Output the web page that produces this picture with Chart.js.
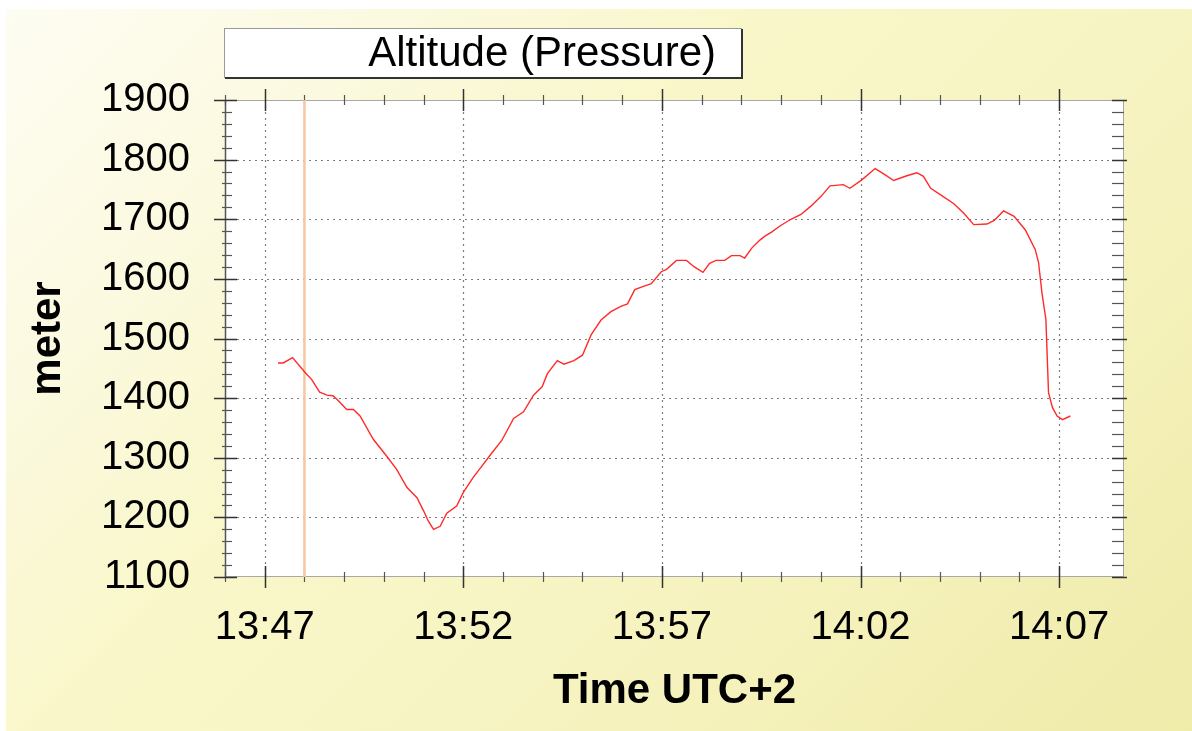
<!DOCTYPE html>
<html>
<head>
<meta charset="utf-8">
<title>Altitude (Pressure)</title>
<script src="https://cdn.jsdelivr.net/npm/chart.js@4.4.1/dist/chart.umd.min.js"></script>
<style>
    html, body { margin: 0; padding: 0; background: #fff; }
    canvas { display: block; }
</style>
</head>
<body>
<canvas id="altChart" width="1192" height="731"></canvas>
<script>
// logger readings, local time (UTC+2)
const times = [
    '13:47:20', '13:47:28', '13:47:42', '13:48:01', '13:48:11', '13:48:23', '13:48:34', '13:48:43',
    '13:48:49', '13:49:04', '13:49:14', '13:49:24', '13:49:44', '13:50:04', '13:50:19', '13:50:35',
    '13:50:50', '13:51:00', '13:51:07', '13:51:15', '13:51:25', '13:51:35', '13:51:50', '13:52:00',
    '13:52:15', '13:52:28', '13:52:41', '13:52:58', '13:53:16', '13:53:31', '13:53:46', '13:53:59',
    '13:54:07', '13:54:22', '13:54:32', '13:54:47', '13:55:00', '13:55:13', '13:55:28', '13:55:43',
    '13:55:58', '13:56:08', '13:56:19', '13:56:31', '13:56:44', '13:56:59', '13:57:07', '13:57:22',
    '13:57:37', '13:57:49', '13:58:02', '13:58:12', '13:58:22', '13:58:35', '13:58:45', '13:58:58',
    '13:59:05', '13:59:16', '13:59:28', '13:59:36', '13:59:45', '14:00:00', '14:00:15', '14:00:30',
    '14:00:45', '14:01:00', '14:01:14', '14:01:34', '14:01:44', '14:02:02', '14:02:22', '14:02:35',
    '14:02:50', '14:03:10', '14:03:25', '14:03:35', '14:03:46', '14:04:01', '14:04:21', '14:04:36',
    '14:04:51', '14:05:11', '14:05:22', '14:05:36', '14:05:52', '14:06:09', '14:06:24', '14:06:29',
    '14:06:34', '14:06:40', '14:06:42', '14:06:44', '14:06:50', '14:06:57', '14:07:05', '14:07:17'
];
const altitude = [
    1459, 1459, 1468, 1443, 1431, 1410, 1405, 1404,
    1398, 1381, 1381, 1370, 1331, 1303, 1281, 1250,
    1233, 1211, 1194, 1180, 1185, 1207, 1219, 1242,
    1267, 1286, 1305, 1329, 1366, 1377, 1405, 1419,
    1441, 1463, 1457, 1463, 1472, 1506, 1531, 1545,
    1554, 1558, 1582, 1587, 1592, 1612, 1616, 1631,
    1631, 1620, 1611, 1626, 1631, 1631, 1639, 1639,
    1635, 1652, 1665, 1672, 1678, 1690, 1700, 1708,
    1722, 1738, 1756, 1758, 1752, 1766, 1785, 1776,
    1765, 1773, 1778, 1772, 1752, 1741, 1726, 1710,
    1691, 1692, 1698, 1714, 1705, 1682, 1649, 1627,
    1577, 1532, 1470, 1409, 1384, 1370, 1364, 1370
];

const timeLabels = ['13:47', '13:52', '13:57', '14:02', '14:07'];
const meterLabels = [1100, 1200, 1300, 1400, 1500, 1600, 1700, 1800, 1900];
const xMin = '13:46:00';
const xMax = '14:08:38';
const cursorTime = '13:48:00';
const seriesName = 'Altitude (Pressure)';

const FONT = "'Liberation Sans', Arial, sans-serif";

function toMinutes(s) {
    const p = s.split(':').map(Number);
    return p[0] * 60 + p[1] + (p[2] || 0) / 60;
}

function fmtTime(m) {
    const h = Math.floor(m / 60);
    const mm = Math.round(m - h * 60);
    return h + ':' + String(mm).padStart(2, '0');
}

const isWhole = v => Math.abs(v - Math.round(v)) < 1e-6;

// background panel, plot frame, dotted grid, tick marks, legend box
const framePlugin = {
    id: 'frame',
    beforeDraw(chart) {
        const { ctx, chartArea: a, width, height } = chart;
        ctx.save();
        ctx.fillStyle = '#fff';
        ctx.fillRect(0, 0, width, height);

        const g = ctx.createLinearGradient(6, 9, 6 + 954, 9 + 954);
        g.addColorStop(0, '#fefdf3');
        g.addColorStop(0.22, '#fbf9de');
        g.addColorStop(0.4, '#f9f7c9');
        g.addColorStop(0.62, '#f7f4c3');
        g.addColorStop(1, '#efeba9');
        ctx.fillStyle = g;
        ctx.fillRect(6, 9, width - 6, height - 9);

        ctx.fillStyle = '#fff';
        ctx.fillRect(a.left, a.top, a.right - a.left, a.bottom - a.top);

        // legend box
        const bx = 224, by = 28, bw = 517, bh = 49;
        ctx.fillStyle = '#fff';
        ctx.fillRect(bx, by, bw, bh);
        ctx.strokeStyle = '#9a9a9a';
        ctx.lineWidth = 1;
        ctx.strokeRect(bx + 0.5, by + 0.5, bw, bh);
        ctx.strokeStyle = '#333';
        ctx.lineWidth = 2;
        ctx.beginPath();
        ctx.moveTo(bx + 1, by + bh + 1);
        ctx.lineTo(bx + bw + 1, by + bh + 1);
        ctx.lineTo(bx + bw + 1, by + 1);
        ctx.stroke();
        ctx.fillStyle = '#000';
        ctx.font = '42px ' + FONT;
        ctx.textAlign = 'right';
        ctx.textBaseline = 'middle';
        ctx.fillText(chart.data.datasets[0].label, bx + bw - 25, by + bh / 2 + 2);
        ctx.restore();
    },
    beforeDatasetsDraw(chart) {
        const { ctx, chartArea: a, scales } = chart;
        const xs = scales.x, ys = scales.y;
        ctx.save();

        // dotted grid on labelled ticks
        ctx.strokeStyle = 'rgba(70, 70, 70, 0.7)';
        ctx.lineWidth = 1.2;
        ctx.setLineDash([2, 4]);
        xs.ticks.forEach(t => {
            if (!t.label) return;
            const px = Math.round(xs.getPixelForValue(t.value)) + 0.5;
            ctx.beginPath();
            ctx.moveTo(px, a.top);
            ctx.lineTo(px, a.bottom);
            ctx.stroke();
        });
        ys.ticks.forEach(t => {
            if (!t.label || t.value === ys.min || t.value === ys.max) return;
            const py = Math.round(ys.getPixelForValue(t.value)) + 0.5;
            ctx.beginPath();
            ctx.moveTo(a.left, py);
            ctx.lineTo(a.right, py);
            ctx.stroke();
        });
        ctx.setLineDash([]);

        // plot frame
        ctx.strokeStyle = '#a8a8a8';
        ctx.lineWidth = 1;
        ctx.strokeRect(a.left + 0.5, a.top + 0.5, a.right - a.left - 1, a.bottom - a.top - 1);
        ctx.strokeStyle = '#555';
        ctx.lineWidth = 1.5;
        ctx.beginPath();
        ctx.moveTo(a.left + 0.5, a.top);
        ctx.lineTo(a.left + 0.5, a.bottom);
        ctx.stroke();

        // tick marks on all four sides
        const seg = (x1, y1, x2, y2) => {
            ctx.beginPath();
            ctx.moveTo(x1, y1);
            ctx.lineTo(x2, y2);
            ctx.stroke();
        };
        xs.ticks.forEach(t => {
            if (!isWhole(t.value)) return;
            const px = Math.round(xs.getPixelForValue(t.value)) + 0.5;
            const len = t.label ? 11 : 5;
            ctx.strokeStyle = t.label ? '#333' : '#555';
            ctx.lineWidth = t.label ? 1.5 : 1.2;
            seg(px, a.bottom - len, px, a.bottom + len);
            seg(px, a.top - len, px, a.top + len);
        });
        ys.ticks.forEach(t => {
            const py = Math.round(ys.getPixelForValue(t.value)) + 0.5;
            ctx.strokeStyle = t.label ? '#333' : '#555';
            ctx.lineWidth = t.label ? 1.5 : 1.2;
            if (t.label) {
                seg(a.left - 11, py, a.left + 12, py);
                seg(a.right - 12, py, a.right + 3, py);
            } else {
                seg(a.left - 3, py, a.left + 7, py);
                seg(a.right - 12, py, a.right, py);
            }
        });
        ctx.restore();
    }
};

const points = times.map((t, i) => ({ x: toMinutes(t), y: altitude[i] }));
const yMin = meterLabels[0];
const yMax = meterLabels[meterLabels.length - 1];

new Chart(document.getElementById('altChart'), {
    type: 'line',
    data: {
        datasets: [
            {
                label: seriesName,
                data: points,
                borderColor: '#ff2a2a',
                borderWidth: 1.4,
                pointRadius: 0,
                tension: 0
            },
            {
                label: 'cursor',
                data: [
                    { x: toMinutes(cursorTime), y: yMin },
                    { x: toMinutes(cursorTime), y: yMax }
                ],
                borderColor: '#f8c6a0',
                borderWidth: 2.5,
                pointRadius: 0
            }
        ]
    },
    options: {
        responsive: false,
        animation: false,
        devicePixelRatio: 1,
        layout: {
            padding: { top: 100, right: 68, left: 0, bottom: 0 }
        },
        plugins: {
            legend: { display: false },
            tooltip: { enabled: false }
        },
        scales: {
            x: {
                type: 'linear',
                min: toMinutes(xMin),
                max: toMinutes(xMax),
                grid: { display: false, drawTicks: false },
                border: { display: false },
                ticks: {
                    stepSize: 1,
                    autoSkip: false,
                    maxRotation: 0,
                    padding: 27,
                    color: '#000',
                    font: { family: FONT, size: 40 },
                    callback: v => (isWhole(v) && timeLabels.includes(fmtTime(v))) ? fmtTime(v) : ''
                },
                title: {
                    display: true,
                    text: 'Time UTC+2',
                    color: '#000',
                    font: { family: FONT, size: 42, weight: 'bold' },
                    padding: { top: 0, bottom: 14 }
                },
                afterFit: s => { s.height = 154; }
            },
            y: {
                min: yMin,
                max: yMax,
                grid: { display: false, drawTicks: false },
                border: { display: false },
                ticks: {
                    stepSize: 20,
                    autoSkip: false,
                    padding: 35,
                    color: '#000',
                    font: { family: FONT, size: 40 },
                    callback: v => meterLabels.includes(v) ? String(v) : ''
                },
                title: {
                    display: true,
                    text: 'meter',
                    color: '#000',
                    font: { family: FONT, size: 42, weight: 'bold' },
                    padding: { top: 23, bottom: 0 }
                },
                afterFit: s => { s.width = 225; }
            }
        }
    },
    plugins: [framePlugin]
});
</script>
</body>
</html>
